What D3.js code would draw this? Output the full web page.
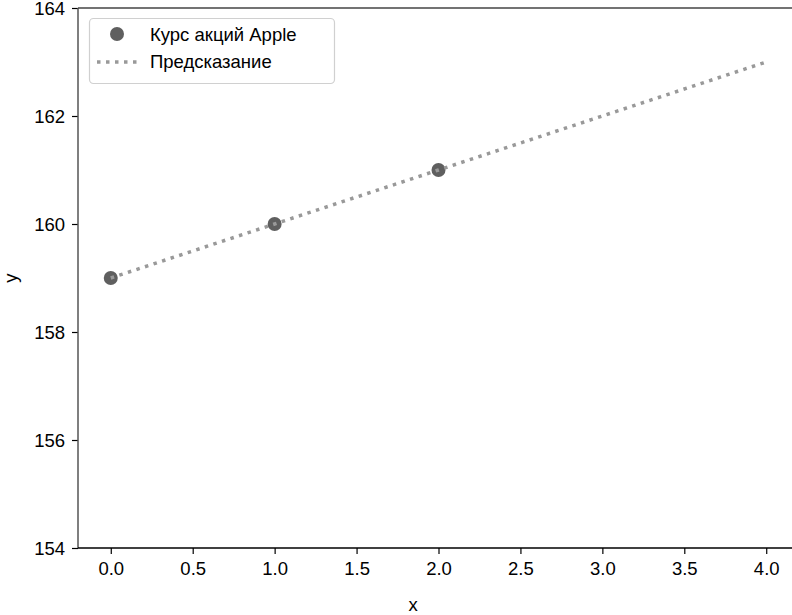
<!DOCTYPE html>
<html>
<head>
<meta charset="utf-8">
<script src="https://cdn.jsdelivr.net/npm/d3@7"></script>
<style>
  html, body { margin: 0; padding: 0; background: #fff; }
  svg text { font-family: "Liberation Sans", Arial, Helvetica, sans-serif; fill: #000; }
</style>
</head>
<body>
<svg id="chart" width="792" height="615"></svg>
<script>
// Observed prices and the linear forecast
const xObserved = [0, 1, 2];
const yObserved = [159, 160, 161];
const xForecast = [0, 1, 2, 3, 4];
const yForecast = [159, 160, 161, 162, 163];
const xTicks = [0.0, 0.5, 1.0, 1.5, 2.0, 2.5, 3.0, 3.5, 4.0];
const yTicks = [154, 156, 158, 160, 162, 164];
const legendLabels = ["Курс акций Apple", "Предсказание"];

const svg = d3.select("#chart");
const plotLeft = 78, plotRight = 799, plotTop = 8, plotBottom = 548;
const fontSize = 18.5;

const x = d3.scaleLinear().domain([-0.2, 4.2]).range([plotLeft, plotRight]);
const y = d3.scaleLinear().domain([154, 164]).range([plotBottom, plotTop]);

// Axes
const xAxis = svg.append("g")
  .attr("transform", `translate(0,${plotBottom})`)
  .call(d3.axisBottom(x).tickValues(xTicks).tickFormat(d3.format(".1f")).tickSizeOuter(0).tickSize(6).tickPadding(8));
const yAxis = svg.append("g")
  .attr("transform", `translate(${plotLeft},0)`)
  .call(d3.axisLeft(y).tickValues(yTicks).tickFormat(d3.format("d")).tickSizeOuter(0).tickSize(6).tickPadding(7));

[xAxis, yAxis].forEach(g => {
  g.selectAll("text").attr("font-size", fontSize).style("font-family", '"Liberation Sans", Arial, sans-serif');
  g.selectAll("line").attr("stroke", "#000").attr("stroke-width", 1.2);
  g.select(".domain").remove();
});
yAxis.selectAll("text").attr("dy", "0.36em");

// Frame
svg.append("line").attr("x1", plotLeft).attr("x2", plotLeft).attr("y1", plotTop).attr("y2", plotBottom)
  .attr("stroke", "#555").attr("stroke-width", 1.5);
svg.append("line").attr("x1", plotLeft).attr("x2", plotRight).attr("y1", plotBottom).attr("y2", plotBottom)
  .attr("stroke", "#000").attr("stroke-width", 1.5);
svg.append("line").attr("x1", plotLeft).attr("x2", plotRight).attr("y1", plotTop).attr("y2", plotTop)
  .attr("stroke", "#444").attr("stroke-width", 1.5);

// Axis titles
svg.append("text").attr("x", 413).attr("y", 611)
  .attr("text-anchor", "middle").attr("font-size", fontSize).text("x");
svg.append("text").attr("transform", `translate(17,${(plotTop + plotBottom) / 2}) rotate(-90)`)
  .attr("text-anchor", "middle").attr("font-size", fontSize).text("y");

// Observed points
svg.append("g").selectAll("circle").data(yObserved).join("circle")
  .attr("cx", (d, i) => x(xObserved[i])).attr("cy", d => y(d))
  .attr("r", 7).attr("fill", "#5f5f5f");

// Forecast line, dotted, drawn over the points
const line = d3.line().x((d, i) => x(xForecast[i])).y(d => y(d));
svg.append("path").datum(yForecast)
  .attr("d", line).attr("fill", "none")
  .attr("stroke", "#999").attr("stroke-width", 3.5).attr("stroke-dasharray", "3.5,5.5");

// Legend
const lg = svg.append("g");
lg.append("rect").attr("x", 89.5).attr("y", 18.5).attr("width", 245).attr("height", 65)
  .attr("rx", 4).attr("fill", "#fff").attr("fill-opacity", 0.8)
  .attr("stroke", "#d0d0d0").attr("stroke-width", 1.2);
lg.append("circle").attr("cx", 117).attr("cy", 34).attr("r", 7).attr("fill", "#5f5f5f");
lg.append("line").attr("x1", 97).attr("x2", 138).attr("y1", 62).attr("y2", 62)
  .attr("stroke", "#999").attr("stroke-width", 3.5).attr("stroke-dasharray", "3.5,5.5");
lg.selectAll("text.lbl").data(legendLabels).join("text").attr("class", "lbl")
  .attr("x", 150).attr("y", (d, i) => 34 + i * 27).attr("dy", "0.36em")
  .attr("font-size", fontSize).text(d => d);
</script>
</body>
</html>
